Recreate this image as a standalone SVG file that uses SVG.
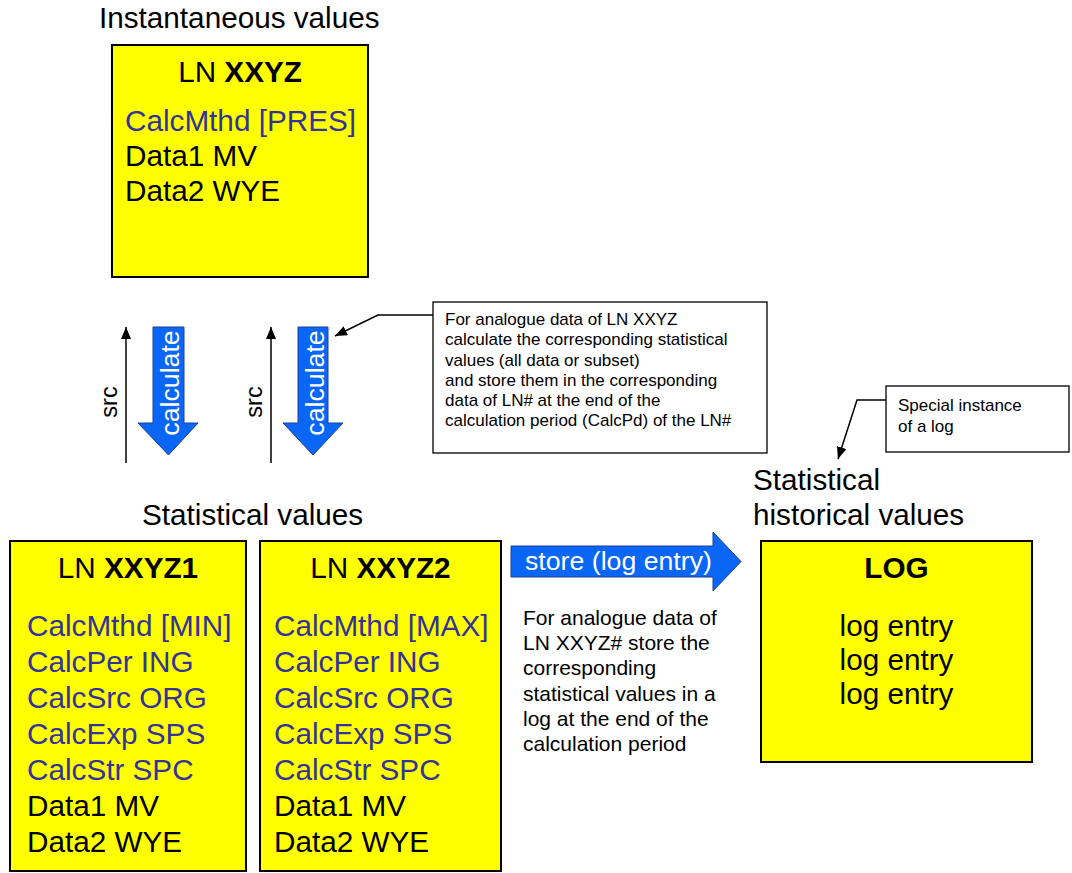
<svg xmlns="http://www.w3.org/2000/svg" width="1072" height="873" viewBox="0 0 1072 873">
  <defs>
    <style>
      text { font-family: "Liberation Sans", Arial, sans-serif; fill: #000; }
      .big { font-size: 29.7px; }
      .mid { font-size: 21px; }
      .small { font-size: 17px; }
      .calc { fill: #333399; }
      .b { font-weight: bold; }
      .lnbox { fill: #ffff00; stroke: #000; stroke-width: 2; }
      .note { fill: #fff; stroke: #000; stroke-width: 1.3; }
      .blk { fill: #0a66f5; stroke: #1c3f99; stroke-width: 1; }
      .lbl { fill: #fff; font-size: 26.7px; }
      .line { fill: none; stroke: #000; stroke-width: 1.5; }
    </style>
    <marker id="head" viewBox="0 0 12 10" refX="12" refY="5" markerWidth="12" markerHeight="10" markerUnits="userSpaceOnUse" orient="auto">
      <path d="M0,0 L12,5 L0,10 Z" fill="#000"/>
    </marker>
  </defs>

  <!-- section titles -->
  <text class="big" x="99" y="28">Instantaneous values</text>
  <text class="big" x="142" y="525">Statistical values</text>
  <text class="big" x="753" y="490">Statistical</text>
  <text class="big" x="753" y="525">historical values</text>

  <!-- LN XXYZ -->
  <g id="ln-xxyz">
    <rect class="lnbox" x="112" y="45" width="256" height="232"/>
    <text class="big" x="240" y="82" text-anchor="middle">LN <tspan class="b">XXYZ</tspan></text>
    <text class="big calc" x="125" y="131">CalcMthd [PRES]</text>
    <text class="big" x="125" y="166">Data1 MV</text>
    <text class="big" x="125" y="201">Data2 WYE</text>
  </g>

  <!-- LN XXYZ1 -->
  <g id="ln-xxyz1">
    <rect class="lnbox" x="10" y="541" width="236" height="330"/>
    <text class="big" x="128" y="578" text-anchor="middle">LN <tspan class="b">XXYZ1</tspan></text>
    <text class="big calc" x="27" y="636">CalcMthd [MIN]</text>
    <text class="big calc" x="27" y="672">CalcPer ING</text>
    <text class="big calc" x="27" y="708">CalcSrc ORG</text>
    <text class="big calc" x="27" y="744">CalcExp SPS</text>
    <text class="big calc" x="27" y="780">CalcStr SPC</text>
    <text class="big" x="27" y="816">Data1 MV</text>
    <text class="big" x="27" y="852">Data2 WYE</text>
  </g>

  <!-- LN XXYZ2 -->
  <g id="ln-xxyz2">
    <rect class="lnbox" x="260" y="541" width="241" height="330"/>
    <text class="big" x="380.5" y="578" text-anchor="middle">LN <tspan class="b">XXYZ2</tspan></text>
    <text class="big calc" x="274" y="636">CalcMthd [MAX]</text>
    <text class="big calc" x="274" y="672">CalcPer ING</text>
    <text class="big calc" x="274" y="708">CalcSrc ORG</text>
    <text class="big calc" x="274" y="744">CalcExp SPS</text>
    <text class="big calc" x="274" y="780">CalcStr SPC</text>
    <text class="big" x="274" y="816">Data1 MV</text>
    <text class="big" x="274" y="852">Data2 WYE</text>
  </g>

  <!-- LOG -->
  <g id="log">
    <rect class="lnbox" x="761" y="541" width="271" height="221"/>
    <text class="big b" x="896.5" y="578" text-anchor="middle">LOG</text>
    <text class="big" x="896.5" y="636" text-anchor="middle">log entry</text>
    <text class="big" x="896.5" y="670" text-anchor="middle">log entry</text>
    <text class="big" x="896.5" y="704" text-anchor="middle">log entry</text>
  </g>

  <!-- explanation of the calculation -->
  <g id="note-calc">
    <rect class="note" x="433" y="302" width="334" height="151"/>
    <text class="small" x="445" y="325">For analogue data of LN XXYZ</text>
    <text class="small" x="445" y="345">calculate the corresponding statistical</text>
    <text class="small" x="445" y="366">values (all data or subset)</text>
    <text class="small" x="445" y="386">and store them in the corresponding</text>
    <text class="small" x="445" y="406">data of LN# at the end of the</text>
    <text class="small" x="445" y="426">calculation period (CalcPd) of the LN#</text>
  </g>

  <!-- explanation of the log -->
  <g id="note-log">
    <rect class="note" x="886" y="386" width="183" height="66"/>
    <text class="small" x="898" y="411">Special instance</text>
    <text class="small" x="898" y="432">of a log</text>
  </g>

  <!-- explanation of storing -->
  <g id="note-store">
    <text class="mid" x="523" y="625">For analogue data of</text>
    <text class="mid" x="523" y="650">LN XXYZ# store the</text>
    <text class="mid" x="523" y="675">corresponding</text>
    <text class="mid" x="523" y="701">statistical values in a</text>
    <text class="mid" x="523" y="726">log at the end of the</text>
    <text class="mid" x="523" y="751">calculation period</text>
  </g>

  <!-- connectors -->
  <g id="connectors">
    <!-- src arrows -->
    <line class="line" x1="126" y1="463" x2="126" y2="327" marker-end="url(#head)"/>
    <text font-size="23.5" transform="translate(117,402) rotate(-90)" text-anchor="middle">src</text>
    <line class="line" x1="271" y1="463" x2="271" y2="327" marker-end="url(#head)"/>
    <text font-size="23.5" transform="translate(262,402) rotate(-90)" text-anchor="middle">src</text>

    <!-- calculate block arrows -->
    <path class="blk" d="M153,327 H184 V423 H198 L168.5,455 L138,423 H153 Z"/>
    <text class="lbl" transform="translate(179,383) rotate(-90)" text-anchor="middle">calculate</text>
    <path class="blk" d="M298,327 H328 V423 H343 L313,455 L283,423 H298 Z"/>
    <text class="lbl" transform="translate(324,383) rotate(-90)" text-anchor="middle">calculate</text>

    <!-- store block arrow -->
    <path class="blk" d="M511,546 H713 V532 L741,561.5 L713,591 V577 H511 Z"/>
    <text class="lbl" x="525" y="570">store (log entry)</text>

    <!-- callout pointers -->
    <polyline class="line" points="433,315 378,315 335,336" marker-end="url(#head)"/>
    <polyline class="line" points="886,400 857,400 838,459" marker-end="url(#head)"/>
  </g>
</svg>
